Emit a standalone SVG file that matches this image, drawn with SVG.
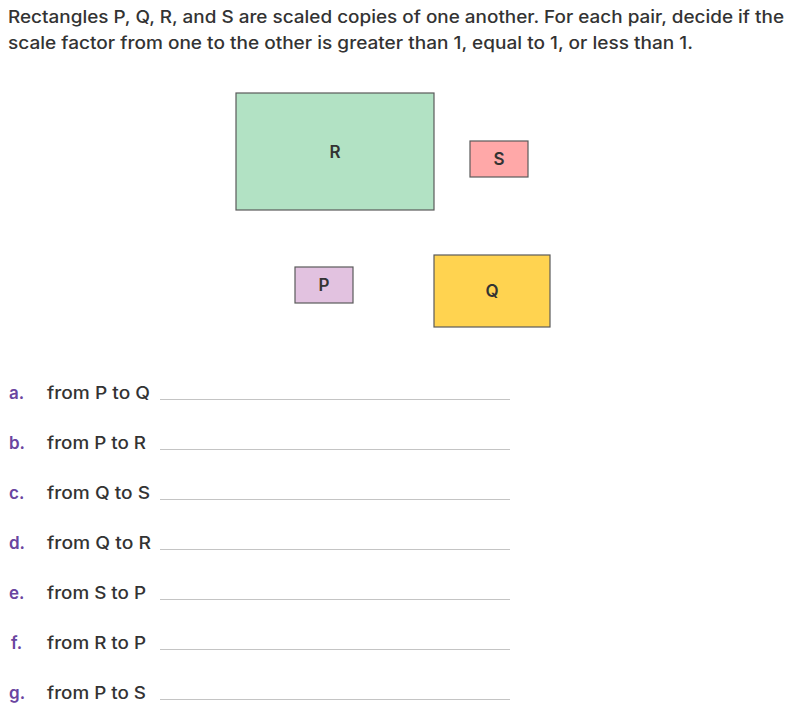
<svg xmlns="http://www.w3.org/2000/svg" width="806" height="722" viewBox="0 0 806 722">
<style>
.t{font-family:Inter,"Noto Sans","Liberation Sans",sans-serif;font-weight:500;fill:#333;}
.title{font-size:17px;}
.item{font-size:17px;}
.let{font-family:Inter,"Noto Sans","Liberation Sans",sans-serif;font-weight:600;font-size:17px;fill:#6a45a0;}
.lbl{font-family:Inter,"Noto Sans","Liberation Sans",sans-serif;font-size:17px;font-weight:600;fill:#333;text-anchor:middle;}
.box{stroke:#5a5a5a;stroke-width:1.2;}
.ans{stroke:#c4c4c4;stroke-width:1.2;}
</style>
<rect width="806" height="722" fill="#fff"/>
<text class="t title" x="8" y="23" textLength="776" lengthAdjust="spacingAndGlyphs">Rectangles P, Q, R, and S are scaled copies of one another. For each pair, decide if the</text>
<text class="t title" x="8" y="49" textLength="685" lengthAdjust="spacingAndGlyphs">scale factor from one to the other is greater than 1, equal to 1, or less than 1.</text>
<g id="R"><rect class="box" x="236" y="93" width="198" height="117" fill="#b2e2c4"/><text class="lbl" x="335" y="158">R</text></g>
<g id="S"><rect class="box" x="470" y="141" width="58" height="36" fill="#ffa8a8"/><text class="lbl" x="499" y="165">S</text></g>
<g id="P"><rect class="box" x="295" y="267" width="58" height="36" fill="#e2c2e0"/><text class="lbl" x="324" y="291">P</text></g>
<g id="Q"><rect class="box" x="434" y="255" width="116" height="72" fill="#ffd350"/><text class="lbl" x="492" y="297">Q</text></g>
<g id="items">
<text class="let" x="9" y="399">a.</text><text class="t item" x="47" y="399" textLength="103" lengthAdjust="spacingAndGlyphs">from P to Q</text><line class="ans" x1="160" y1="399.5" x2="510" y2="399.5"/>
<text class="let" x="9" y="449">b.</text><text class="t item" x="47" y="449" textLength="99" lengthAdjust="spacingAndGlyphs">from P to R</text><line class="ans" x1="160" y1="449.5" x2="510" y2="449.5"/>
<text class="let" x="9" y="499">c.</text><text class="t item" x="47" y="499" textLength="103" lengthAdjust="spacingAndGlyphs">from Q to S</text><line class="ans" x1="160" y1="499.5" x2="510" y2="499.5"/>
<text class="let" x="9" y="549">d.</text><text class="t item" x="47" y="549" textLength="104" lengthAdjust="spacingAndGlyphs">from Q to R</text><line class="ans" x1="160" y1="549.5" x2="510" y2="549.5"/>
<text class="let" x="9" y="599">e.</text><text class="t item" x="47" y="599" textLength="99" lengthAdjust="spacingAndGlyphs">from S to P</text><line class="ans" x1="160" y1="599.5" x2="510" y2="599.5"/>
<text class="let" x="11" y="649">f.</text><text class="t item" x="47" y="649" textLength="99" lengthAdjust="spacingAndGlyphs">from R to P</text><line class="ans" x1="160" y1="649.5" x2="510" y2="649.5"/>
<text class="let" x="9" y="699">g.</text><text class="t item" x="47" y="699" textLength="99" lengthAdjust="spacingAndGlyphs">from P to S</text><line class="ans" x1="160" y1="699.5" x2="510" y2="699.5"/>
</g>
</svg>
